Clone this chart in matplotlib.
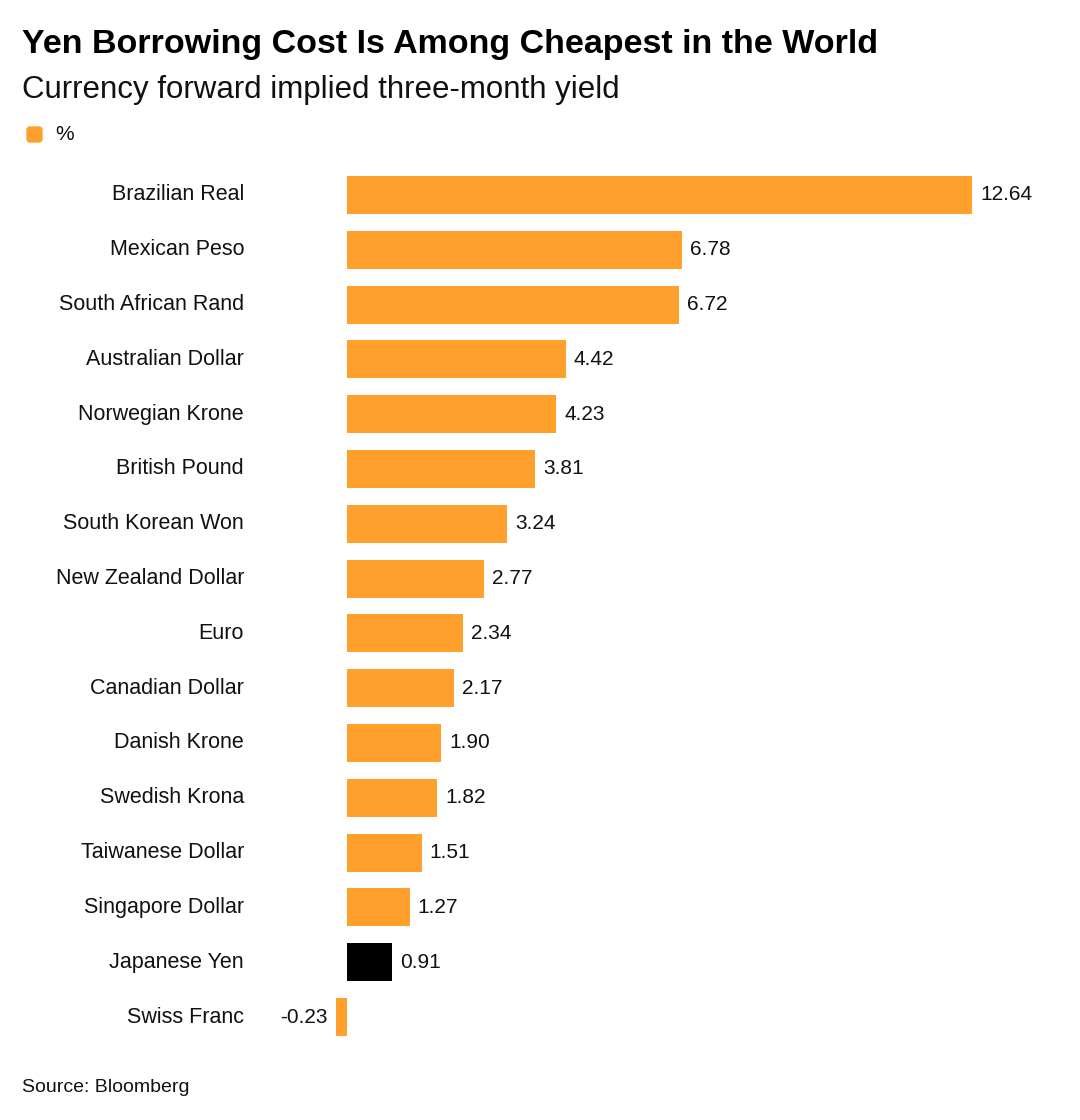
import matplotlib
matplotlib.use("Agg")
import matplotlib.pyplot as plt
from matplotlib.patches import FancyBboxPatch
import matplotlib.transforms as mtransforms

plt.rcParams['font.family'] = ['Liberation Sans', 'DejaVu Sans']

currencies = ['Brazilian Real', 'Mexican Peso', 'South African Rand', 'Australian Dollar',
              'Norwegian Krone', 'British Pound', 'South Korean Won', 'New Zealand Dollar',
              'Euro', 'Canadian Dollar', 'Danish Krone', 'Swedish Krona',
              'Taiwanese Dollar', 'Singapore Dollar', 'Japanese Yen', 'Swiss Franc']
yields = [12.64, 6.78, 6.72, 4.42, 4.23, 3.81, 3.24, 2.77,
          2.34, 2.17, 1.90, 1.82, 1.51, 1.27, 0.91, -0.23]
highlight = 'Japanese Yen'

orange = '#FFA02C'
W, H = 1080, 1120
fig = plt.figure(figsize=(W / 100, H / 100), dpi=100)

# axes in pixel terms
left, right, top, bottom = 300, 1060, 160, 1050
ax = fig.add_axes([left / W, 1 - bottom / H, (right - left) / W, (bottom - top) / H])
ax.axis('off')

px_per_unit = (972 - 347) / 12.64
ax.set_xlim(-(347 - left) / px_per_unit, (right - 347) / px_per_unit)
step = (1017 - 195) / 15
ax.set_ylim(15 + (bottom - 1017) / step, -(195 - top) / step)

ypos = list(range(len(currencies)))
colors = ['black' if c == highlight else orange for c in currencies]
ax.barh(ypos, yields, height=0.69, color=colors)

off = 8 / px_per_unit
trans = mtransforms.blended_transform_factory(fig.transFigure, ax.transData)
for y, name, v in zip(ypos, currencies, yields):
    ax.text(244 / W, y, name, transform=trans, ha='right', va='center', fontsize=15.5, color='#111111')
    if v >= 0:
        ax.text(v + off, y, f'{v:.2f}', ha='left', va='center', fontsize=15, color='#111111')
    else:
        ax.text(v - off, y, f'{v:.2f}', ha='right', va='center', fontsize=15, color='#111111')

fig.text(22 / W, 1 - 44 / H, 'Yen Borrowing Cost Is Among Cheapest in the World',
         fontsize=24.5, fontweight='bold', va='center', ha='left')
fig.text(22 / W, 1 - 90 / H, 'Currency forward implied three-month yield',
         fontsize=22.5, va='center', ha='left', color='#111111')
fig.patches.append(FancyBboxPatch((27 / W, 1 - 142 / H), 15 / W, 15 / H,
                                  boxstyle='round,pad=0,rounding_size=0.003',
                                  transform=fig.transFigure, color=orange))
fig.text(55 / W, 1 - 134 / H, '%', fontsize=15, va='center', ha='left', color='#111111')
fig.text(22 / W, 1 - 1087 / H, 'Source: Bloomberg', fontsize=14, va='center', ha='left', color='#111111')

fig.savefig('out.png', dpi=100, facecolor='white')
